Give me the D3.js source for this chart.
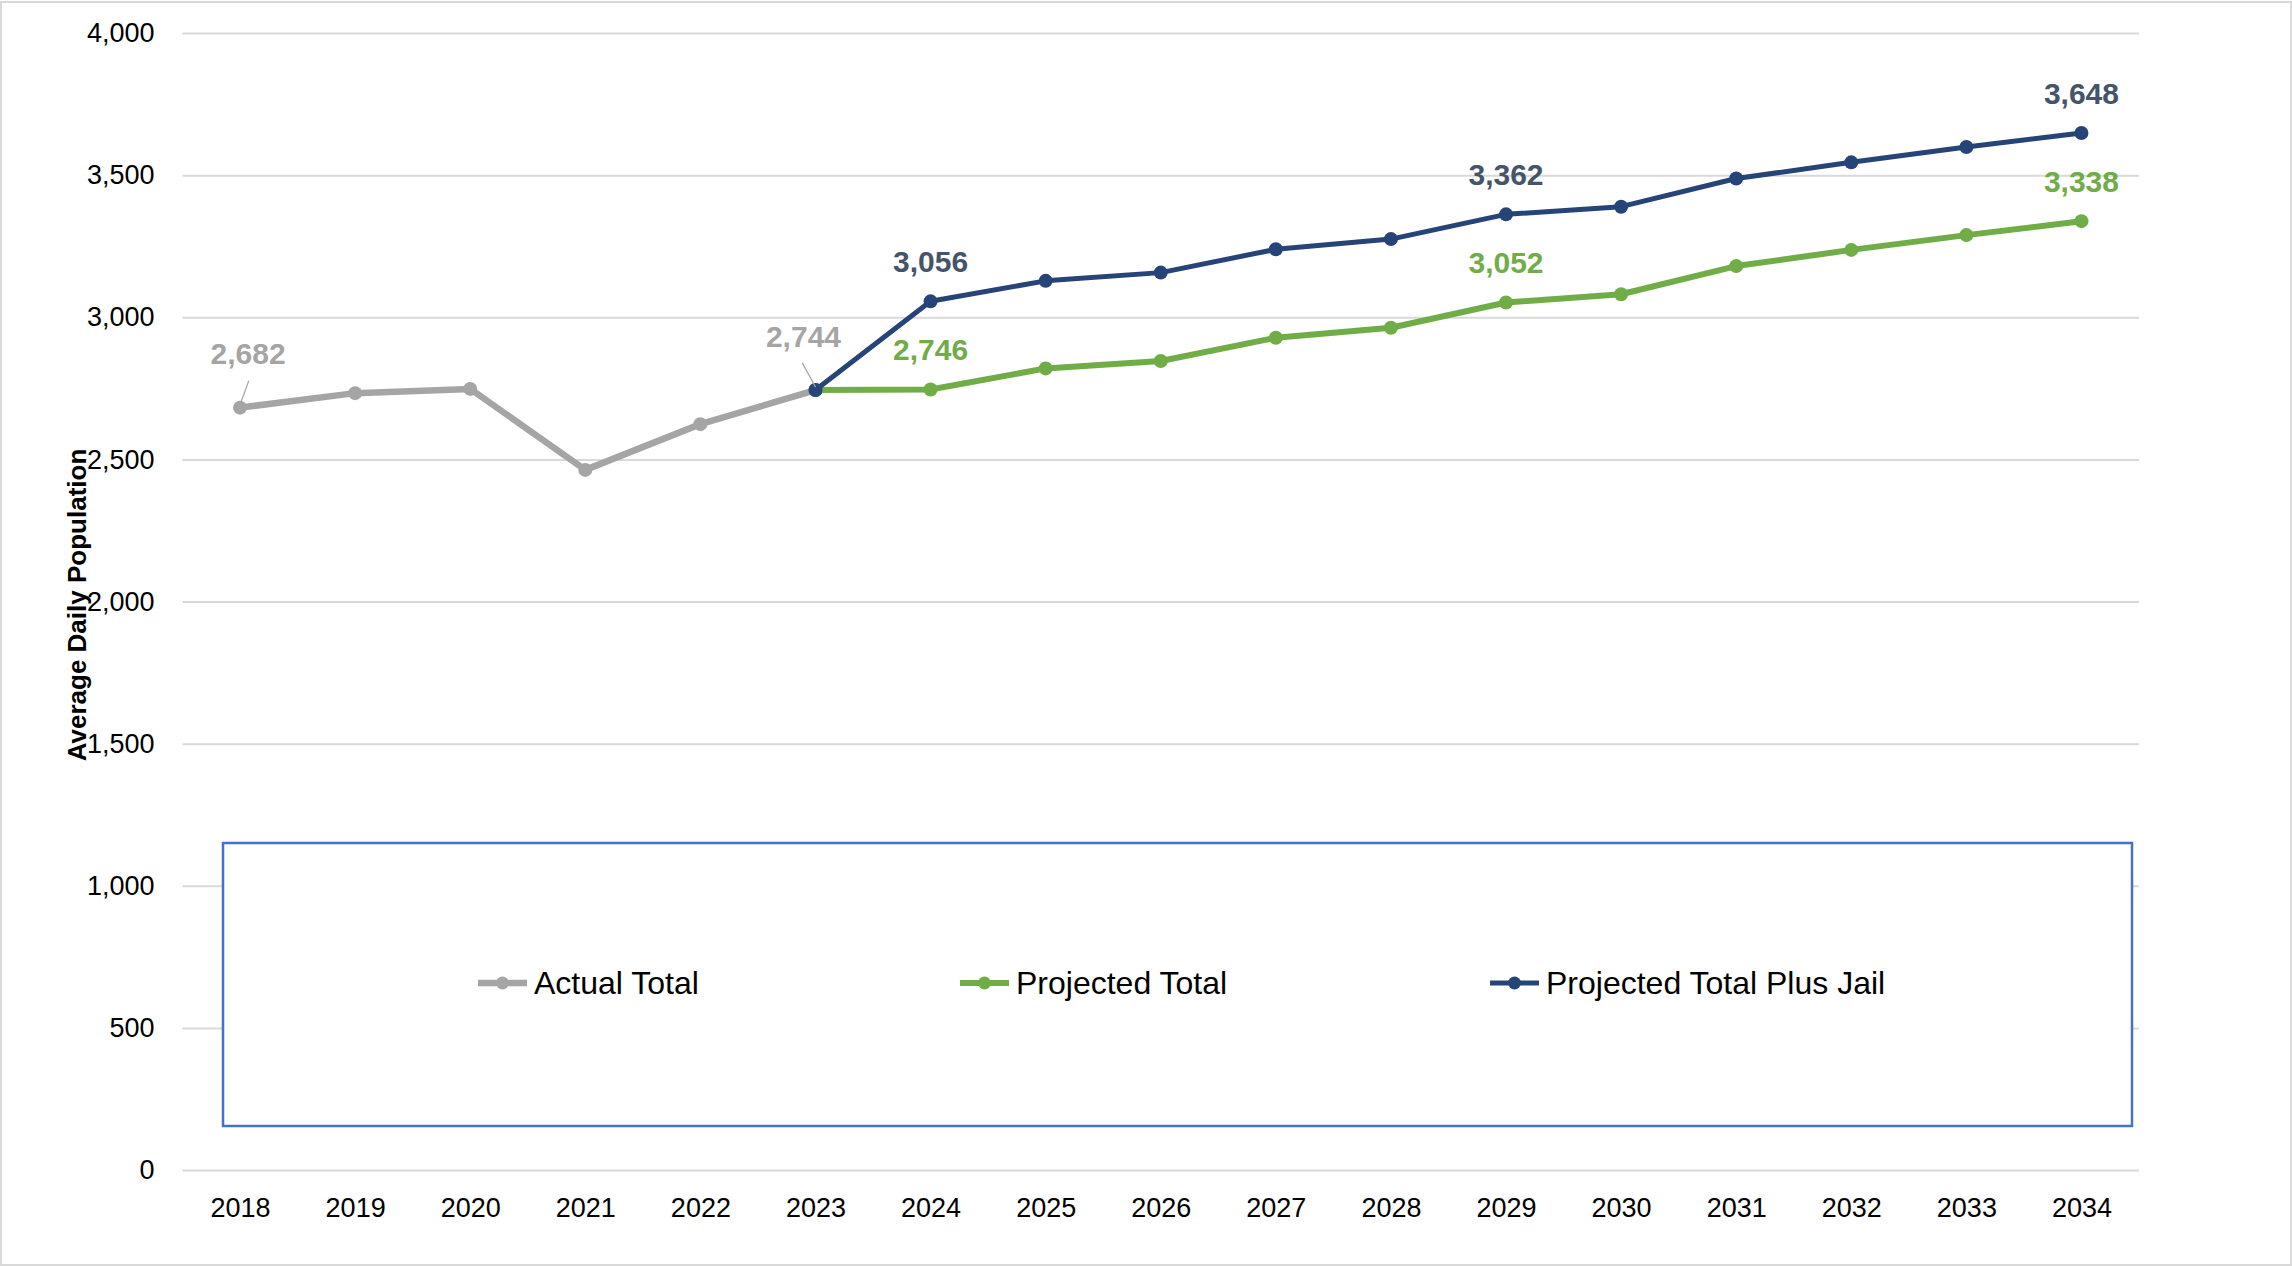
<!DOCTYPE html>
<html>
<head>
<meta charset="utf-8">
<script src="https://cdn.jsdelivr.net/npm/d3@7"></script>
<style>
  body { margin: 0; background: #fff; }
  svg { display: block; font-family: "Liberation Sans", Arial, sans-serif; }
</style>
</head>
<body>
<div class="chart"></div>
<script>
// average daily population, actual vs projected
var years = [2018, 2019, 2020, 2021, 2022, 2023, 2024, 2025, 2026, 2027, 2028, 2029, 2030, 2031, 2032, 2033, 2034];

var actualYears = [2018, 2019, 2020, 2021, 2022, 2023];
var actualTotal = [2682, 2733, 2748, 2463, 2624, 2744];

var projYears = [2023, 2024, 2025, 2026, 2027, 2028, 2029, 2030, 2031, 2032, 2033, 2034];
var projectedTotal = [2744, 2746, 2820, 2846, 2928, 2963, 3052, 3081, 3180, 3237, 3289, 3338];
var projectedJail = [2744, 3056, 3128, 3157, 3239, 3275, 3362, 3389, 3488, 3545, 3599, 3648];

var yTicks = [0, 500, 1000, 1500, 2000, 2500, 3000, 3500, 4000];

// which years get a value label
var actualLabelYears = [2018, 2023];
var projLabelYears = [2024, 2029, 2034];

var W = 2292, H = 1266;
// note: "top" clashes with window.top, so prefix these
var pLeft = 182.5, pRight = 2139, pTop = 33, pBottom = 1170;

var svg = d3.select(".chart").append("svg")
    .attr("width", W)
    .attr("height", H);

// outer frame
svg.append("rect").attr("x", 1).attr("y", 2).attr("width", W - 2).attr("height", H - 3)
    .attr("fill", "none").attr("stroke", "#d9d9d9").attr("stroke-width", 2);

var x = d3.scalePoint().domain(years).range([pLeft, pRight]).padding(0.5);
var y = d3.scaleLinear().domain([0, 4000]).range([pBottom, pTop]);

// gridlines + y labels
var yAxis = svg.append("g").attr("transform", "translate(" + pLeft + ",0)")
    .call(d3.axisLeft(y).tickValues(yTicks).tickSize(-(pRight - pLeft)).tickPadding(28)
        .tickFormat(d3.format(",")));
yAxis.select(".domain").remove();
yAxis.selectAll(".tick line").attr("stroke", "#d9d9d9").attr("stroke-width", 2);
yAxis.selectAll(".tick text").attr("font-size", 27).attr("fill", "#000")
    .attr("font-family", "Liberation Sans, Arial, sans-serif");

// x labels
var xAxis = svg.append("g").attr("transform", "translate(0," + pBottom + ")")
    .call(d3.axisBottom(x).tickSize(0).tickPadding(28));
xAxis.select(".domain").remove();
xAxis.selectAll(".tick text").attr("font-size", 27).attr("fill", "#000")
    .attr("font-family", "Liberation Sans, Arial, sans-serif");

// y axis title
svg.append("text")
    .attr("transform", "translate(86,605) rotate(-90)")
    .attr("text-anchor", "middle")
    .attr("font-size", 26).attr("font-weight", "bold").attr("fill", "#000")
    .text("Average Daily Population");

// legend box (white, covers gridlines)
svg.append("rect").attr("x", 223).attr("y", 843).attr("width", 1909).attr("height", 283)
    .attr("fill", "#fff").attr("stroke", "#4472c4").attr("stroke-width", 2.5);

var series = [
  {name: "Actual Total", xs: actualYears, vals: actualTotal, color: "#a5a5a5", lab: "#a5a5a5", w: 6.5, labels: actualLabelYears, lx: 478},
  {name: "Projected Total", xs: projYears, vals: projectedTotal, color: "#70ad47", lab: "#70ad47", w: 6, labels: projLabelYears, lx: 960},
  {name: "Projected Total Plus Jail", xs: projYears, vals: projectedJail, color: "#264478", lab: "#44546a", w: 5, labels: projLabelYears, lx: 1490}
];

var line = d3.line()
    .x(function(d) { return x(d[0]); })
    .y(function(d) { return y(d[1]); });

series.forEach(function(s) {
  var pts = s.xs.map(function(yr, i) { return [yr, s.vals[i]]; });
  svg.append("path").datum(pts)
      .attr("d", line).attr("fill", "none")
      .attr("stroke", s.color).attr("stroke-width", s.w).attr("stroke-linejoin", "round");
  svg.selectAll(null).data(pts).enter().append("circle")
      .attr("cx", function(d) { return x(d[0]); })
      .attr("cy", function(d) { return y(d[1]); })
      .attr("r", 7).attr("fill", s.color);

  // legend entry
  var ly = 983;
  svg.append("line").attr("x1", s.lx).attr("x2", s.lx + 49).attr("y1", ly).attr("y2", ly)
      .attr("stroke", s.color).attr("stroke-width", s.w);
  svg.append("circle").attr("cx", s.lx + 24.5).attr("cy", ly).attr("r", 6.5).attr("fill", s.color);
  svg.append("text").attr("x", s.lx + 56).attr("y", ly).attr("dy", "0.35em")
      .attr("font-size", 32).attr("fill", "#000").text(s.name);
});

// value labels (drawn after lines so they sit on top)
var fmt = d3.format(",");
series.forEach(function(s, si) {
  s.labels.forEach(function(yr) {
    var v = s.vals[s.xs.indexOf(yr)];
    var px = x(yr), py = y(v);
    var dx = 0, dy = -40;
    if (si === 0) {
      dx = yr === 2018 ? 8 : -12;
      dy = -54;
      svg.append("line")
          .attr("x1", px + dx * 1.1).attr("y1", py + dy + 27)
          .attr("x2", px).attr("y2", py - 3)
          .attr("stroke", "#a5a5a5").attr("stroke-width", 1.3);
    }
    svg.append("text")
        .attr("x", px + dx).attr("y", py + dy).attr("dy", "0.36em")
        .attr("text-anchor", "middle")
        .attr("font-size", 30).attr("font-weight", "bold").attr("fill", s.lab)
        .text(fmt(v));
  });
});
</script>
</body>
</html>
